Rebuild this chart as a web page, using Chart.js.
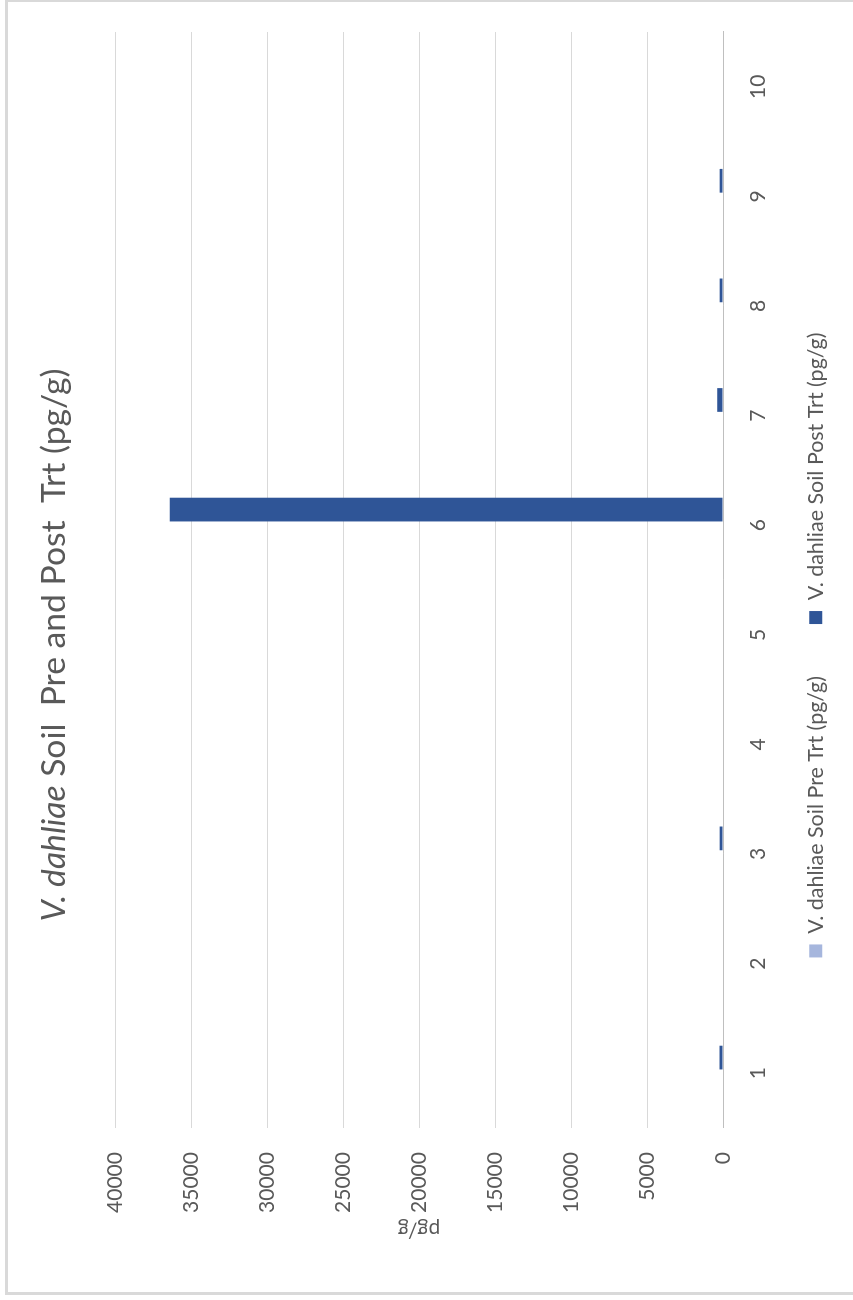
<!DOCTYPE html>
<html><head><meta charset="utf-8">
<script src="https://cdn.jsdelivr.net/npm/chart.js@4.4.1/dist/chart.umd.min.js"></script>
<style>
html,body{margin:0;padding:0;background:#fff;overflow:hidden;width:853px;height:1300px;}
#wrap{position:absolute;left:0;top:1300px;width:1300px;height:853px;transform-origin:0 0;transform:rotate(-90deg);overflow:hidden;background:#fff;}
#frame{position:absolute;left:5px;top:5px;width:1290px;height:900px;border:3px solid #d9d9d9;}
#c{position:absolute;left:0;top:0;}
</style></head><body>
<div id="wrap"><div id="frame"></div><canvas id="c" width="1300" height="853"></canvas></div>
<script>
// ---- data ----
const categories = ['1','2','3','4','5','6','7','8','9','10'];
const preTrt  = [0, 0, 0, 0, 0, 0, 0, 0, 0, 0];
const postTrt = [230, 0, 220, 0, 0, 36400, 380, 220, 220, 0];
const seriesNames = ['V. dahliae Soil Pre Trt (pg/g)', 'V. dahliae Soil Post Trt (pg/g)'];
const titleItalic = 'V. dahliae';
const titleRest = ' Soil  Pre and Post  Trt (pg/g)';
const axisTitle = 'pg/g';
const valueMin = 0, valueMax = 40000, valueStep = 5000;

// ---- styling ----
const FONT = 'Lato, "Open Sans", sans-serif';
const TEXT = '#595959';
const mctx = document.createElement('canvas').getContext('2d');
function tw(text, size, style){ mctx.font = (style||'') + ' ' + size + 'px ' + FONT; return mctx.measureText(text).width; }
const tickSize = 100 * 61 / tw('20000', 100);
const legendSize = 100 * 268 / tw(seriesNames[1], 100);
const titleSize = 100 * 553 / (tw(titleItalic, 100, 'italic') + tw(titleRest, 100));
const legendPad = 52;
const padBottom = 38 - legendSize;
// mirrored ticks are not clipped to the (short) axis box; negative padding puts them below the axis
const xLabelPad = -(35 + tickSize * 0.6);

const mixedTitle = {
  id: 'mixedTitle',
  afterDraw(chart){
    const ctx = chart.ctx, lg = chart.legend;
    const cx = (lg.left + lg.right) / 2;
    const cy = chart.chartArea.top - 61;
    ctx.save();
    ctx.fillStyle = TEXT; ctx.textBaseline = 'middle'; ctx.textAlign = 'left';
    const fi = 'italic ' + titleSize + 'px ' + FONT, fn = titleSize + 'px ' + FONT;
    ctx.font = fi; const w1 = ctx.measureText(titleItalic).width;
    ctx.font = fn; const w2 = ctx.measureText(titleRest).width;
    const x = cx - (w1 + w2) / 2;
    ctx.font = fi; ctx.fillText(titleItalic, x, cy);
    ctx.font = fn; ctx.fillText(titleRest, x + w1, cy);
    ctx.restore();
  }
};

new Chart(document.getElementById('c'), {
  type: 'bar',
  data: {
    labels: categories,
    datasets: [
      { label: seriesNames[0], data: preTrt, backgroundColor: '#a6b6dd', categoryPercentage: 0.57, barPercentage: 0.76 },
      { label: seriesNames[1], data: postTrt, backgroundColor: '#2f5597', categoryPercentage: 0.57, barPercentage: 0.76 }
    ]
  },
  options: {
    responsive: false, animation: false, devicePixelRatio: 1,
    layout: { padding: { left: 42, right: 32, top: 115, bottom: padBottom } },
    plugins: {
      title: { display: false },
      tooltip: { enabled: false },
      legend: {
        position: 'bottom',
        labels: { font: { family: FONT, size: legendSize }, color: TEXT, boxWidth: 13, boxHeight: 13, padding: legendPad }
      }
    },
    scales: {
      x: {
        grid: { display: false, drawTicks: false },
        border: { display: true, color: '#bfbfbf', width: 1 },
        ticks: { font: { family: FONT, size: tickSize }, color: TEXT, padding: xLabelPad, mirror: true },
        afterFit(s){ s.height = 30; }
      },
      y: {
        min: valueMin, max: valueMax,
        ticks: { stepSize: valueStep, font: { family: FONT, size: tickSize }, color: TEXT, padding: 24, callback: v => String(v) },
        grid: { color: '#d9d9d9', drawTicks: false },
        border: { display: false },
        title: { display: true, text: axisTitle, font: { family: FONT, size: tickSize }, color: TEXT, padding: { top: 16, bottom: 0 } },
        afterFit(s){ s.width = 130; }
      }
    }
  },
  plugins: [mixedTitle]
});
</script>
</body></html>
